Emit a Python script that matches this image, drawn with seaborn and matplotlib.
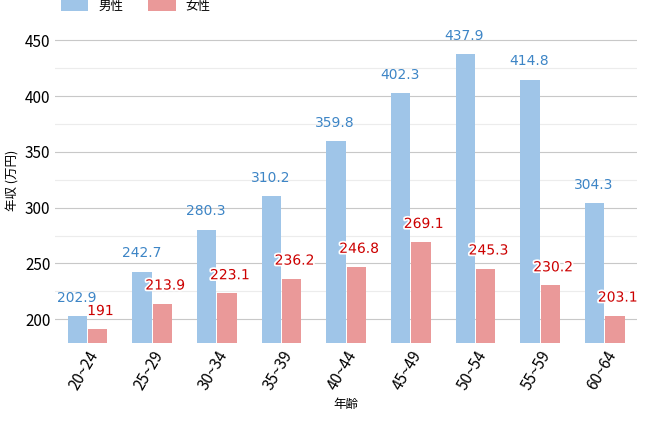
import numpy as np
import pandas as pd
import seaborn as sns
import matplotlib.pyplot as plt
import matplotlib.patheffects as pe
from matplotlib.ticker import MultipleLocator

plt.rcParams['font.family'] = ['Noto Sans CJK JP']

ages = ['20~24', '25~29', '30~34', '35~39', '40~44', '45~49', '50~54', '55~59', '60~64']
male = [202.9, 242.7, 280.3, 310.2, 359.8, 402.3, 437.9, 414.8, 304.3]
female = [191, 213.9, 223.1, 236.2, 246.8, 269.1, 245.3, 230.2, 203.1]
series = ['男性', '女性']
colors = ['#9fc5e8', '#ea9999']

df = pd.DataFrame({'年齢': ages * 2, '年収': male + female,
                   'sex': [series[0]] * len(ages) + [series[1]] * len(ages)})

fig, ax = plt.subplots(figsize=(6.5, 4.23), dpi=100)
sns.barplot(data=df, x='年齢', y='年収', hue='sex', palette=colors,
            width=0.63, gap=0.05, ax=ax, saturation=1)

ax.set_ylim(179, 469)
ax.yaxis.set_major_locator(MultipleLocator(50))
ax.yaxis.set_minor_locator(MultipleLocator(25))
ax.grid(axis='y', which='major', color='#c8c8c8', lw=0.8)
ax.grid(axis='y', which='minor', color='#ececec', lw=0.8)
ax.set_axisbelow(True)
for s in ax.spines.values():
    s.set_visible(False)
ax.tick_params(axis='y', which='both', length=0, labelsize=11)
ax.tick_params(axis='x', length=0, labelsize=11, rotation=60)
for t in ax.get_xticklabels():
    t.set_ha('right')
    t.set_rotation_mode('anchor')
ax.set_ylabel('年収 (万円)', style='italic', fontsize=9)
ax.set_xlabel('年齢', style='italic', fontsize=9)

x = np.arange(len(ages))
for i in range(len(ages)):
    ax.text(x[i] - 0.17, male[i] + 10, f'{male[i]:g}', color='#3d85c6',
            ha='center', va='bottom', fontsize=10, family='DejaVu Sans')
    ax.text(x[i] + 0.2, female[i] + 10, f'{female[i]:g}', color='#cc0000',
            ha='center', va='bottom', fontsize=10, family='DejaVu Sans',
            path_effects=[pe.withStroke(linewidth=2.5, foreground='white')])

ax.legend(loc='lower left', bbox_to_anchor=(-0.01, 0.985), ncol=2, frameon=False,
          fontsize=9, handlelength=2.2, handleheight=0.9, columnspacing=2)
plt.subplots_adjust(left=0.085, right=0.98, top=0.955, bottom=0.19)
plt.savefig('out.png', dpi=100)
